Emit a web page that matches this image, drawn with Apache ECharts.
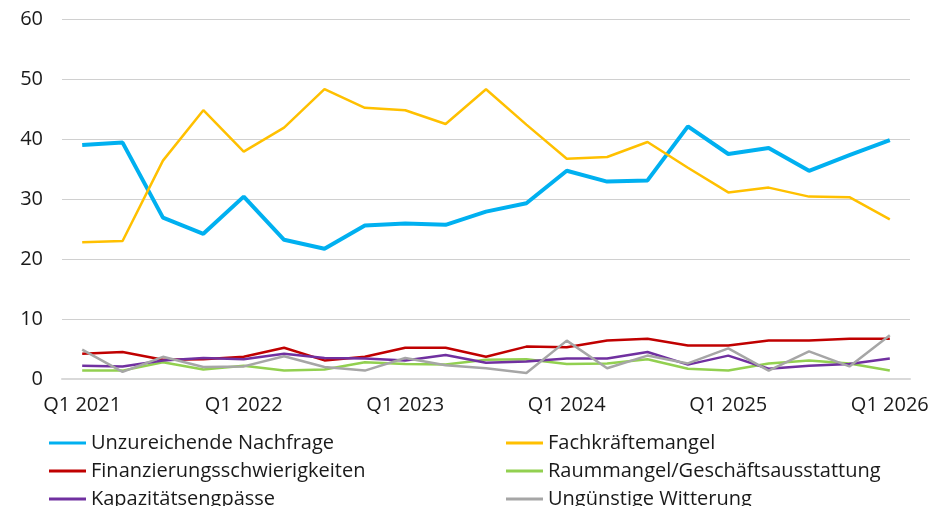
<!DOCTYPE html>
<html>
<head>
<meta charset="utf-8">
<script src="https://cdn.jsdelivr.net/npm/echarts@6/dist/echarts.min.js"></script>
<style>
html, body { margin: 0; padding: 0; background: #fff; }
#chart1 { width: 932px; height: 506px; }
</style>
</head>
<body>
<div id="chart1"></div>
<script>
// Quartale Q1 2021 .. Q1 2026
var quarters = [];
for (var y = 2021; y <= 2026; y++) {
	for (var q = 1; q <= 4; q++) {
		if (y == 2026 && q > 1) break;
		quarters.push('Q' + q + ' ' + y);
	}
}

var nachfrage = [39.0, 39.4, 26.9, 24.2, 30.4, 23.2, 21.7, 25.6, 25.9, 25.7, 27.9, 29.3, 34.7, 32.9, 33.1, 42.1, 37.5, 38.5, 34.7, 37.3, 39.8];
var fachkraefte = [22.8, 23.0, 36.4, 44.8, 37.9, 41.9, 48.3, 45.2, 44.8, 42.5, 48.3, 42.4, 36.7, 37.0, 39.5, 35.2, 31.1, 31.9, 30.4, 30.3, 26.6];
var finanzierung = [4.2, 4.5, 3.2, 3.3, 3.7, 5.2, 3.1, 3.7, 5.2, 5.2, 3.7, 5.4, 5.3, 6.4, 6.7, 5.6, 5.6, 6.4, 6.4, 6.7, 6.7];
var raummangel = [1.4, 1.4, 2.8, 1.6, 2.2, 1.4, 1.6, 2.8, 2.5, 2.4, 3.2, 3.3, 2.5, 2.6, 3.3, 1.7, 1.4, 2.6, 3.1, 2.6, 1.4];
var kapazitaet = [2.2, 2.1, 3.1, 3.5, 3.3, 4.2, 3.5, 3.4, 3.1, 4.0, 2.7, 2.9, 3.4, 3.4, 4.5, 2.4, 3.9, 1.7, 2.2, 2.5, 3.4];
var witterung = [4.9, 1.2, 3.7, 2.0, 2.1, 3.8, 2.0, 1.4, 3.5, 2.3, 1.8, 1.0, 6.4, 1.8, 3.9, 2.6, 5.1, 1.4, 4.6, 2.1, 7.3];

var font = 'Open Sans';

function line(name, data, color, width) {
	return {
		name : name,
		type : 'line',
		data : data,
		symbol : 'none',
		lineStyle : { color : color, width : width },
		itemStyle : { color : color },
		animation : false
	};
}

var myChart = echarts.init(document.getElementById('chart1'));
var option = {
	backgroundColor : '#fff',
	grid : { left : 62, right : 22, top : 19, bottom : 127 },
	legend : {
		left : 44,
		top : 428,
		width : 920,
		icon : 'rect',
		itemWidth : 37,
		itemHeight : 3,
		itemGap : 8,
		textStyle : { fontFamily : font, fontSize : 20, color : '#1a1a1a', width : 407, lineHeight : 19 },
		data : ['Unzureichende Nachfrage', 'Fachkräftemangel', 'Finanzierungsschwierigkeiten',
			'Raummangel/Geschäftsausstattung', 'Kapazitätsengpässe', 'Ungünstige Witterung']
	},
	xAxis : {
		type : 'category',
		data : quarters,
		boundaryGap : ['0%', '0%'],
		axisLine : { lineStyle : { color : '#d9d9d9', width : 2 } },
		axisTick : { show : false },
		axisLabel : {
			interval : 3,
			margin : 16,
			fontFamily : font,
			fontSize : 20,
			color : '#1a1a1a'
		}
	},
	yAxis : {
		type : 'value',
		min : 0,
		max : 60,
		interval : 10,
		axisLabel : { margin : 19, fontFamily : font, fontSize : 20, color : '#1a1a1a' },
		splitLine : { lineStyle : { color : '#d0d0d0', width : 1 } },
		axisLine : { show : false },
		axisTick : { show : false }
	},
	series : [
		line('Unzureichende Nachfrage', nachfrage, '#00b0f0', 4),
		line('Fachkräftemangel', fachkraefte, '#ffc000', 2.5),
		line('Finanzierungsschwierigkeiten', finanzierung, '#c00000', 2.5),
		line('Raummangel/Geschäftsausstattung', raummangel, '#92d050', 2.5),
		line('Kapazitätsengpässe', kapazitaet, '#7030a0', 2.5),
		line('Ungünstige Witterung', witterung, '#a6a6a6', 2.5)
	]
};
myChart.setOption(option);
</script>
</body>
</html>
